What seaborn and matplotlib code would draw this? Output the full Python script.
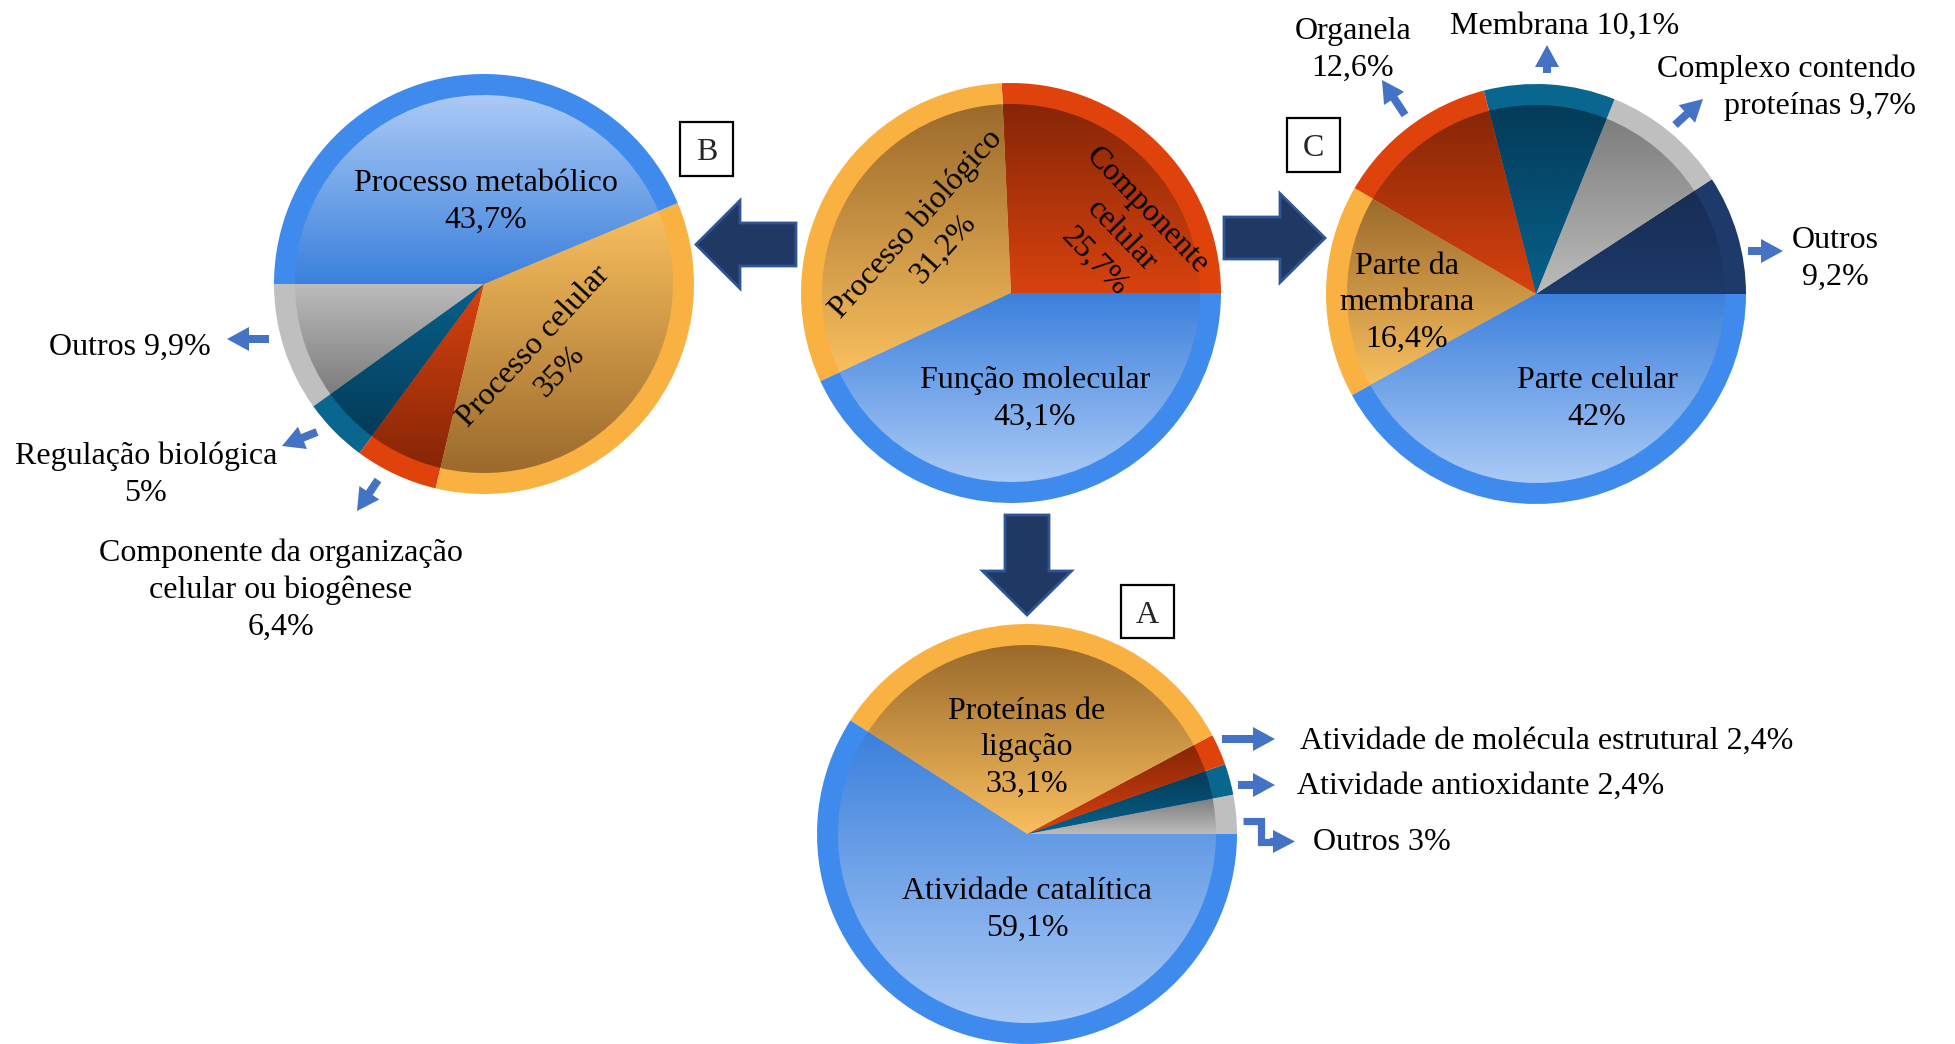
import numpy as np
import matplotlib
matplotlib.use("Agg")
import matplotlib.pyplot as plt
from matplotlib.patches import FancyArrow, Rectangle
import seaborn as sns

sns.set_theme(style="white")
plt.rcParams["font.family"] = ["Liberation Serif", "DejaVu Serif"]

W, H = 1955, 1044
FS = 23
TEXT_DY = 4  # nudge so the visual centre of the glyphs sits on the anchor

# ---- data -------------------------------------------------------------
# Central pie: the three GO domains
central_names = ["Componente\ncelular\n{}", "Processo biológico\n{}", "Função molecular\n{}"]
central_values = [25.7, 31.2, 43.1]
central_keys = ["red", "orange", "blue"]

# B: Processo biológico
bio_names = ["Outros {}", "Regulação biológica\n{}",
             "Componente da organização\ncelular ou biogênese\n{}",
             "Processo celular\n{}", "Processo metabólico\n{}"]
bio_values = [9.9, 5.0, 6.4, 35.0, 43.7]
bio_keys = ["gray", "teal", "red", "orange", "blue"]

# C: Componente celular
comp_names = ["Outros\n{}", "Complexo contendo\nproteínas {}", "Membrana {}",
              "Organela\n{}", "Parte da\nmembrana\n{}", "Parte celular\n{}"]
comp_values = [9.2, 9.7, 10.1, 12.6, 16.4, 42.0]
comp_keys = ["navy", "gray", "teal", "red", "orange", "blue"]

# A: Função molecular
func_names = ["Outros {}", "Atividade antioxidante {}",
              "Atividade de molécula estrutural {}",
              "Proteínas de\nligação\n{}", "Atividade catalítica\n{}"]
func_values = [3.0, 2.4, 2.4, 33.1, 59.1]
func_keys = ["gray", "teal", "red", "orange", "blue"]

palette = {
    "blue":   dict(rim="#3f8bed", dark="#3b80dc", light="#abcaf6"),
    "orange": dict(rim="#f9b142", dark="#9b6a2c", light="#f9bf5e"),
    "red":    dict(rim="#e0420c", dark="#862607", light="#d8420f"),
    "teal":   dict(rim="#08668f", dark="#043b58", light="#07618b"),
    "gray":   dict(rim="#bfbfbf", dark="#7d7d7d", light="#bcbcbc"),
    "navy":   dict(rim="#1d3a6a", dark="#172d55", light="#1d3a69"),
}


def pct(v):
    return f"{v:g}".replace(".", ",") + "%"


def label(names, values, i):
    return names[i].format(pct(values[i]))


def Y(y):
    return H - y


R, R_IN = 210, 189

fig = plt.figure(figsize=(W / 100, H / 100), dpi=100)
ax = fig.add_axes([0, 0, 1, 1])


def draw_pie(values, keys, center, startangle=0, flip=False):
    cx, cy = center[0], Y(center[1])
    rim = [palette[k]["rim"] for k in keys]
    ax.pie(values, colors=rim, startangle=startangle, counterclock=True,
           radius=R, center=(cx, cy), frame=True,
           wedgeprops=dict(linewidth=0, zorder=1))
    inner, _ = ax.pie(values, colors=rim, startangle=startangle,
                      counterclock=True, radius=R_IN, center=(cx, cy),
                      frame=True, wedgeprops=dict(linewidth=0, zorder=2))
    for w, k in zip(inner, keys):
        th = np.radians(np.linspace(w.theta1, w.theta2, 300))
        xs = np.r_[cx, cx + R_IN * np.cos(th)]
        ys = np.r_[cy, cy + R_IN * np.sin(th)]
        cmap = sns.blend_palette([palette[k]["dark"], palette[k]["light"]],
                                 as_cmap=True)
        grad = np.linspace(0, 1, 256)[:, None]
        if flip:
            grad = grad[::-1]
        im = ax.imshow(grad, cmap=cmap, vmin=0, vmax=1, origin="upper",
                       extent=(xs.min(), xs.max(), ys.min(), ys.max()),
                       interpolation="bilinear", zorder=3)
        im.set_clip_path(w)
        w.set_facecolor("none")


def txt(x, y, s, rot=0, ha="center", ma="center", size=FS):
    ax.text(x, Y(y + TEXT_DY), s, rotation=rot, rotation_mode="anchor", ha=ha,
            va="center", multialignment=ma, linespacing=1.35,
            fontsize=size, color="black", zorder=6)


def arrow(x0, y0, x1, y1, width=8, hw=24, hl=22, fc="#4472c4", ec="none", lw=0):
    ax.add_patch(FancyArrow(x0, Y(y0), x1 - x0, Y(y1) - Y(y0), width=width,
                            head_width=hw, head_length=hl,
                            length_includes_head=True, fc=fc, ec=ec, lw=lw,
                            zorder=5))


def box(x0, y0, x1, y1, s):
    ax.add_patch(Rectangle((x0, Y(y1)), x1 - x0, y1 - y0, fc="white",
                           ec="black", lw=1.6, zorder=5))
    ax.text((x0 + x1) / 2, Y((y0 + y1) / 2 + TEXT_DY), s, ha="center",
            va="center", fontsize=FS, zorder=6)


# ---- pies ---------------------------------------------------------------
draw_pie(central_values, central_keys, (1011, 293), startangle=0)
draw_pie(bio_values, bio_keys, (484, 284), startangle=180, flip=True)
draw_pie(comp_values, comp_keys, (1536, 294), startangle=0)
draw_pie(func_values, func_keys, (1027, 834), startangle=0)

# central labels
txt(1121, 232, label(central_names, central_values, 0), rot=-46)
txt(930, 232, label(central_names, central_values, 1), rot=48)
txt(1035, 395, label(central_names, central_values, 2))

# B labels
txt(486, 198, label(bio_names, bio_values, 4))
txt(547, 355, label(bio_names, bio_values, 3), rot=47)
txt(130, 343, label(bio_names, bio_values, 0))
txt(146, 471, label(bio_names, bio_values, 1))
txt(281, 586, label(bio_names, bio_values, 2))

# C labels
txt(1597, 395, label(comp_names, comp_values, 5))
txt(1407, 299, label(comp_names, comp_values, 4))
txt(1353, 46, label(comp_names, comp_values, 3))
txt(1565, 22, label(comp_names, comp_values, 2))
txt(1916, 84, label(comp_names, comp_values, 1), ha="right", ma="right")
txt(1835, 255, label(comp_names, comp_values, 0))

# A labels
txt(1027, 744, label(func_names, func_values, 3))
txt(1027, 906, label(func_names, func_values, 4))
txt(1300, 737, label(func_names, func_values, 2), ha="left", ma="left")
txt(1297, 782, label(func_names, func_values, 1), ha="left", ma="left")
txt(1313, 839, label(func_names, func_values, 0), ha="left", ma="left")

# ---- connecting block arrows ------------------------------------------
big = dict(fc="#203864", ec="#2f5597", lw=2)
arrow(796, 244.5, 696, 244.5, width=43, hw=88, hl=44, **big)
arrow(1224, 238, 1325, 238, width=42, hw=89, hl=45, **big)
arrow(1027, 515, 1027, 615, width=44, hw=89, hl=44, **big)

# ---- pointer arrows -----------------------------------------------------
arrow(269, 339, 227, 339)
arrow(317, 432, 282, 446)
arrow(378, 480, 357, 511)
arrow(1405, 115, 1382, 80)
arrow(1547, 73, 1547, 45)
arrow(1675, 125, 1703, 99)
arrow(1748, 251, 1783, 251)
arrow(1222, 739, 1275, 739)
arrow(1238, 785, 1275, 785)
ax.plot([1243, 1261.5, 1261.5, 1275], [Y(820.5), Y(820.5), Y(841.5), Y(841.5)],
        color="#4472c4", lw=5.2, solid_joinstyle="miter",
        solid_capstyle="butt", zorder=5)
arrow(1270, 841.5, 1295, 841.5, width=7.2, hw=23, hl=22)

# ---- panel tags -------------------------------------------------------------
box(680, 122, 733, 176, "B")
box(1287, 118, 1340, 172, "C")
box(1121, 585, 1174, 638, "A")

ax.set_xlim(0, W)
ax.set_ylim(0, H)
ax.set_aspect("equal")
ax.set_axis_off()
fig.savefig("out.png", dpi=100, facecolor="white")
